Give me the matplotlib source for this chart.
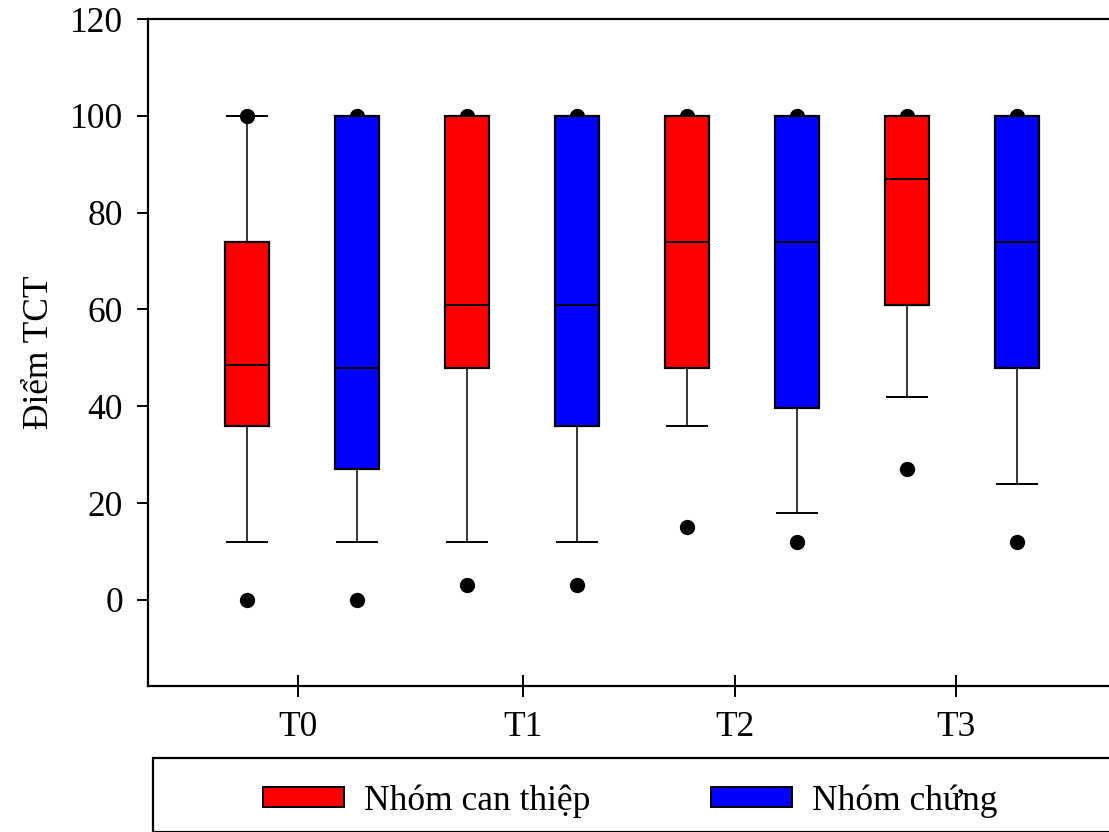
import matplotlib
matplotlib.use('Agg')
import matplotlib.pyplot as plt
from matplotlib.patches import Patch, Rectangle

plt.rcParams['font.family'] = ['Liberation Serif', 'DejaVu Serif']

# dữ liệu
time_labels = ['T0', 'T1', 'T2', 'T3']
groups = ['Nhóm can thiệp', 'Nhóm chứng']
group_colors = ['#ff0000', '#0000ff']

# (whislo, q1, med, q3, whishi) theo từng thời điểm
can_thiep = [
    (12, 36, 48.5, 74, 100),
    (12, 48, 61, 100, 100),
    (36, 48, 74, 100, 100),
    (42, 61, 87, 100, 100),
]
chung = [
    (12, 27, 48, 100, 100),
    (12, 36, 61, 100, 100),
    (18, 39.7, 74, 100, 100),
    (24, 48, 74, 100, 100),
]
outliers_can_thiep = [[0, 100], [3, 100], [15, 100], [27, 100]]
outliers_chung = [[0, 100], [3, 100], [12, 100], [12, 100]]

y_ticks = [0, 20, 40, 60, 80, 100, 120]
x_tick_pos = [1.464, 3.509, 5.436, 7.445]

FS = 25.5


def make_stats(rows, fliers):
    stats = []
    for (lo, q1, med, q3, hi), fl in zip(rows, fliers):
        stats.append(dict(whislo=lo, q1=q1, med=med, q3=q3, whishi=hi, fliers=fl))
    return stats


fig = plt.figure(figsize=(11.09, 8.32), dpi=100)
ax = fig.add_axes([148 / 1109, 1 - 686 / 832, 961 / 1109, (686 - 19) / 832])

for gi, (rows, fl) in enumerate([(can_thiep, outliers_can_thiep), (chung, outliers_chung)]):
    positions = [1 + 2 * i + gi for i in range(len(rows))]
    ax.bxp(make_stats(rows, fl), positions=positions, widths=0.4,
           patch_artist=True, showfliers=True,
           boxprops=dict(facecolor=group_colors[gi], edgecolor='black', linewidth=1.6, zorder=3),
           medianprops=dict(color='black', linewidth=1.4, zorder=4),
           whiskerprops=dict(color='black', linewidth=1.1, zorder=1),
           capprops=dict(color='black', linewidth=1.4, zorder=1),
           capwidths=0.36,
           flierprops=dict(marker='o', markerfacecolor='black', markeredgecolor='black',
                           markersize=10, linestyle='none', zorder=2))

ax.set_xlim(0.1, 8.836)
ax.set_ylim(-17.8, 120)
ax.set_yticks(y_ticks)
ax.set_xticks(x_tick_pos)
ax.set_xticklabels(time_labels)
ax.tick_params(axis='both', labelsize=FS, width=1.4)
ax.tick_params(axis='y', direction='out', length=8, pad=10)
ax.tick_params(axis='x', direction='inout', length=16, pad=10)
ax.spines['right'].set_visible(False)
for s in ['left', 'top', 'bottom']:
    ax.spines[s].set_linewidth(1.6)
ax.set_ylabel('Điểm TCT', fontsize=FS, labelpad=10)

# khung chú thích (bị cắt ở mép phải và dưới)
fig.patches.append(Rectangle((153 / 1109, 0), 1.0, 1 - 758 / 832,
                             transform=fig.transFigure, fill=False,
                             edgecolor='black', linewidth=1.6, clip_on=False))
handles = [Patch(facecolor=c, edgecolor='black', linewidth=1.4) for c in group_colors]
fig.legend(handles, groups, loc='center', bbox_to_anchor=(0.568, 1 - 801 / 832),
           ncol=2, frameon=False, fontsize=FS, handlelength=2.3, handleheight=0.5,
           handletextpad=0.55, columnspacing=3.4)

fig.savefig('out.png', dpi=100)
